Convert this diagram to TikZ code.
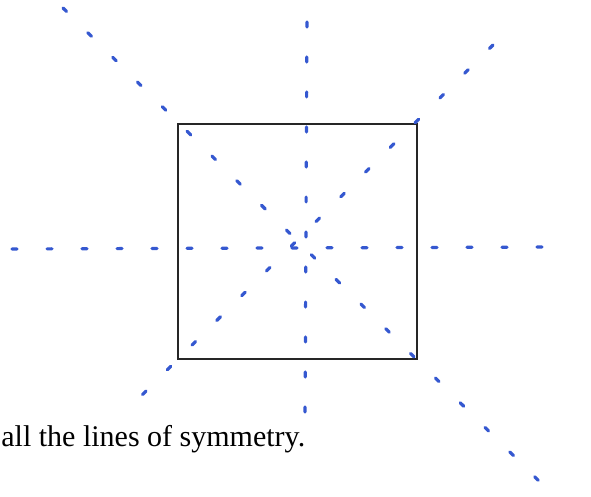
\documentclass[tikz,border=0pt]{standalone}
\usepackage{fontspec}
\setmainfont{Liberation Serif}
\definecolor{penblue}{HTML}{3558D0}

\begin{document}
\begin{tikzpicture}[
    x=0.5pt, y=-0.5pt,
    square/.style={draw=black!85, line width=0.75pt},
    symline/.style={draw=penblue, line width=1.6pt, line cap=round, dash pattern=on 2.5pt off 15pt},
    caption/.style={anchor=base west, inner sep=0pt, font=\fontsize{15}{18}\selectfont},
]
    \useasboundingbox (0,0) rectangle (591,497);
    \draw[square] (178,124) rectangle (417,359);

    % lines of symmetry
    \coordinate (vtop) at (307,22);
    \coordinate (vbot) at (305,425);
    \coordinate (hleft) at (12,249);
    \coordinate (hright) at (555,247);
    \coordinate (dtl) at (63,8);
    \coordinate (dbr) at (545,487);
    \coordinate (dtr) at (493,45);
    \coordinate (dbl) at (123,414);
    \draw[symline] (vtop) -- (vbot);
    \draw[symline] (hleft) -- (hright);
    \draw[symline] (dtl) -- (dbr);
    \draw[symline] (dtr) -- (dbl);

    \node[caption] (task) at (1,447) {all the lines of symmetry.};
\end{tikzpicture}
\end{document}
